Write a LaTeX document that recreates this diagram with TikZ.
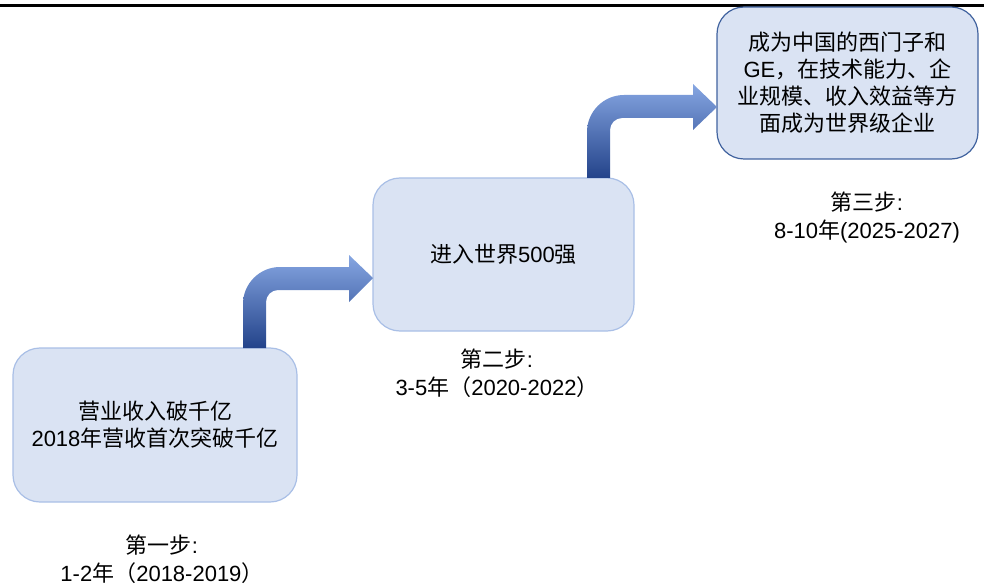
\documentclass[tikz,border=0pt]{standalone}
\usepackage{fontspec}
\setmainfont{Liberation Sans}
\newfontfamily\cjk{Noto Sans CJK SC}
\definecolor{boxfill}{HTML}{DAE3F3}
\definecolor{boxline}{HTML}{A9BFE6}
\definecolor{boxlinedark}{HTML}{41639F}
\definecolor{arrtop}{HTML}{86A6E2}
\definecolor{arrmid}{HTML}{3E6FCC}
\definecolor{arrbot}{HTML}{23438A}
\begin{document}
\begin{tikzpicture}[x=1pt,y=-1pt,
  font=\fontsize{22}{27}\selectfont,
  stepbox/.style={rounded corners=27pt, fill=boxfill, draw=boxline, line width=1.2pt, align=center, inner sep=0pt},
  steplabel/.style={align=center, font=\fontsize{22}{28}\selectfont},
  bentarrow/.style={top color=arrtop, middle color=arrmid, bottom color=arrbot, draw=none}]
\useasboundingbox (0,0) rectangle (984,585);
\draw[line width=3pt] (0,5.5) -- (984,5.5);

\node[stepbox, minimum width=284pt, minimum height=154pt] (b1) at (155,425)
  {{\cjk 营业收入破千亿}\\2018{\cjk 年营收首次突破千亿}};
\node[stepbox, minimum width=261pt, minimum height=153pt] (b2) at (503.5,254.5)
  {{\cjk 进入世界}500{\cjk 强}};
\node[stepbox, draw=boxlinedark, minimum width=261pt, minimum height=152pt] (b3) at (847.5,83)
  {{\cjk 成为中国的西门子和}\\GE{\cjk ，在技术能力、企}\\{\cjk 业规模、收入效益等方}\\{\cjk 面成为世界级企业}};

\node[steplabel] (l1) at (162,559) {{\cjk 第一步}:\\1-2{\cjk 年（}2018-2019{\cjk ）}};
\node[steplabel] (l2) at (497,373.5) {{\cjk 第二步}:\\3-5{\cjk 年（}2020-2022{\cjk ）}};
\node[steplabel] (l3) at (867,217) {{\cjk 第三步}:\\8-10{\cjk 年}(2025-2027)};

% arrow 1
\shade[bentarrow] (243,348) -- (243,304)
  .. controls (243,283.6) and (259.6,267) .. (280,267)
  -- (349,267) -- (349,255) -- (373,278) -- (349,302) -- (349,290) -- (278,290)
  .. controls (271.4,290) and (266,295.4) .. (266,302) -- (266,348) -- cycle;
% arrow 2
\shade[bentarrow] (587,178) -- (587,132)
  .. controls (587,111.6) and (603.6,95) .. (624,95)
  -- (693,95) -- (693,84) -- (717,107) -- (693,130) -- (693,118) -- (622,118)
  .. controls (615.4,118) and (610,123.4) .. (610,130) -- (610,178) -- cycle;
\end{tikzpicture}
\end{document}
